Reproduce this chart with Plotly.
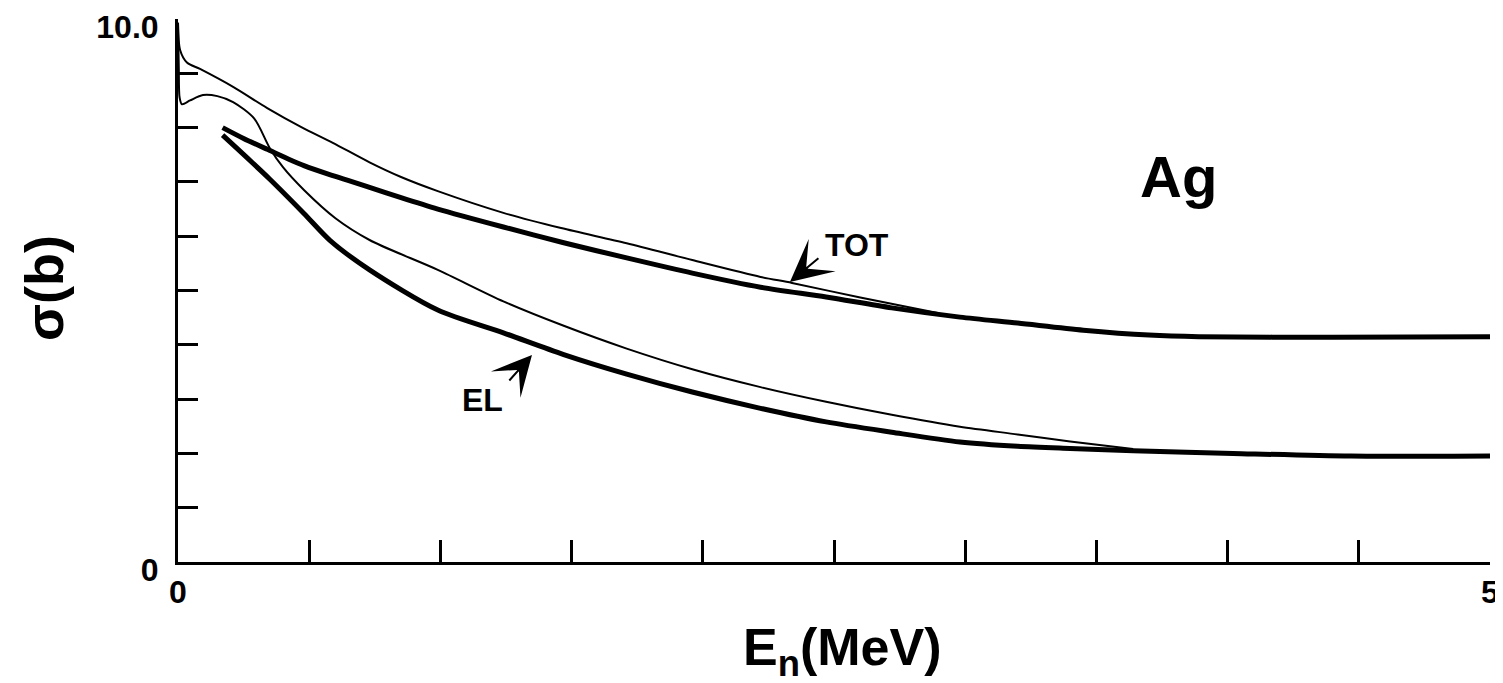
import plotly.graph_objects as go

# ---- data ----
tot_thin_x = [0.0, 0.008, 0.034, 0.084, 0.21, 0.34, 0.47, 0.59, 0.73, 0.85, 0.99, 1.24, 1.46, 1.71, 1.96, 2.22, 2.34, 2.6, 2.9]
tot_thin_y = [9.93, 9.43, 9.2, 9.08, 8.75, 8.36, 8.01, 7.72, 7.36, 7.09, 6.83, 6.43, 6.15, 5.87, 5.56, 5.25, 5.14, 4.87, 4.58]

tot_thick_x = [0.17, 0.25, 0.34, 0.48, 0.6, 0.73, 0.85, 0.99, 1.24, 1.47, 1.71, 1.96, 2.22, 2.47, 2.72, 2.98, 3.2, 3.45, 3.7, 3.89, 4.4, 5.0]
tot_thick_y = [8.0, 7.8, 7.6, 7.3, 7.1, 6.9, 6.71, 6.5, 6.17, 5.88, 5.6, 5.32, 5.06, 4.88, 4.68, 4.51, 4.40, 4.27, 4.18, 4.15, 4.14, 4.15]

el_thin_x = [0.0, 0.003, 0.006, 0.015, 0.046, 0.095, 0.15, 0.21, 0.29, 0.35, 0.40, 0.48, 0.6, 0.73, 0.99, 1.24, 1.47, 1.71, 1.96, 2.22, 2.47, 2.72, 2.98, 3.2, 3.4, 3.64]
el_thin_y = [9.93, 9.1, 8.56, 8.43, 8.5, 8.6, 8.58, 8.47, 8.17, 7.62, 7.27, 6.85, 6.33, 5.93, 5.38, 4.8, 4.35, 3.93, 3.55, 3.22, 2.95, 2.71, 2.49, 2.35, 2.22, 2.08]

el_thick_x = [0.17, 0.35, 0.48, 0.58, 0.73, 0.99, 1.24, 1.47, 1.71, 1.96, 2.22, 2.47, 2.72, 2.98, 3.2, 3.4, 3.64, 4.02, 4.47, 5.0]
el_thick_y = [7.86, 7.05, 6.42, 5.92, 5.38, 4.64, 4.22, 3.82, 3.46, 3.13, 2.83, 2.58, 2.39, 2.21, 2.13, 2.09, 2.05, 2.0, 1.95, 1.95]

x_tickvals = [0, 0.5, 1, 1.5, 2, 2.5, 3, 3.5, 4, 4.5, 5]
x_ticktext = ["0", "", "", "", "", "", "", "", "", "", "5"]
y_tickvals = [0, 1, 2, 3, 4, 5, 6, 7, 8, 9, 10]
y_ticktext = ["0", "", "", "", "", "", "", "", "", "", "10.0"]

FONT = "Liberation Sans"

fig = go.Figure()
for xs, ys, w, name in [
    (tot_thin_x, tot_thin_y, 2, "TOT (thin)"),
    (el_thin_x, el_thin_y, 2, "EL (thin)"),
    (tot_thick_x, tot_thick_y, 5, "TOT"),
    (el_thick_x, el_thick_y, 5, "EL"),
]:
    fig.add_trace(go.Scatter(x=xs, y=ys, mode="lines", name=name,
                             line=dict(color="black", width=w, shape="spline", smoothing=0.8),
                             showlegend=False))

axis_common = dict(showgrid=False, zeroline=False, showline=True, linecolor="black",
                   linewidth=3, ticks="inside", tickcolor="black", tickwidth=3,
                   automargin=False, ticklabeloverflow="allow",
                   tickfont=dict(family=FONT, size=32, color="black", weight="bold"))

fig.update_xaxes(range=[0, 5], tickmode="array", tickvals=x_tickvals, ticktext=x_ticktext,
                 ticklen=22, ticklabelstandoff=0, **axis_common)
fig.update_yaxes(range=[0, 10], tickmode="array", tickvals=y_tickvals, ticktext=y_ticktext,
                 ticklen=20, ticklabelstandoff=10, ticklabelshift=8, **axis_common)

annots = [
    # axis titles
    dict(text="E<sub>n</sub>(MeV)", xref="paper", yref="paper", x=(842 - 178) / 1312,
         y=(562 - 651) / 543, showarrow=False, xanchor="center", yanchor="middle",
         font=dict(family=FONT, size=52, color="black", weight="bold")),
    dict(text="σ(b)", xref="paper", yref="paper", x=(44 - 178) / 1312,
         y=(562 - 288) / 543, showarrow=False, textangle=-90, xanchor="center", yanchor="middle",
         font=dict(family=FONT, size=54, color="black", weight="bold")),
    # element label
    dict(text="Ag", x=3.811, y=7.1, showarrow=False, xanchor="center", yanchor="middle",
         font=dict(family=FONT, size=58, color="black", weight="bold")),
    # curve labels
    dict(text="TOT", x=2.588, y=5.838, showarrow=False, xanchor="center", yanchor="middle",
         font=dict(family=FONT, size=32, color="black", weight="bold")),
    dict(text="EL", x=1.162, y=2.983, showarrow=False, xanchor="center", yanchor="middle",
         font=dict(family=FONT, size=32, color="black", weight="bold")),
    # arrows
    dict(text="", x=2.332, y=5.157, ax=30, ay=-25, showarrow=True, arrowhead=3,
         arrowsize=3.5, arrowwidth=2, arrowcolor="black", standoff=0),
    dict(text="", x=1.349, y=3.812, ax=-24, ay=27, showarrow=True, arrowhead=3,
         arrowsize=3.3, arrowwidth=2, arrowcolor="black", standoff=0),
]

# page body has an 8px default margin, so the figure is offset by 8px
fig.update_layout(width=1495, height=675, margin=dict(l=170, r=13, t=11, b=121),
                  paper_bgcolor="white", plot_bgcolor="white", annotations=annots,
                  showlegend=False)

fig.write_html("out.html")
